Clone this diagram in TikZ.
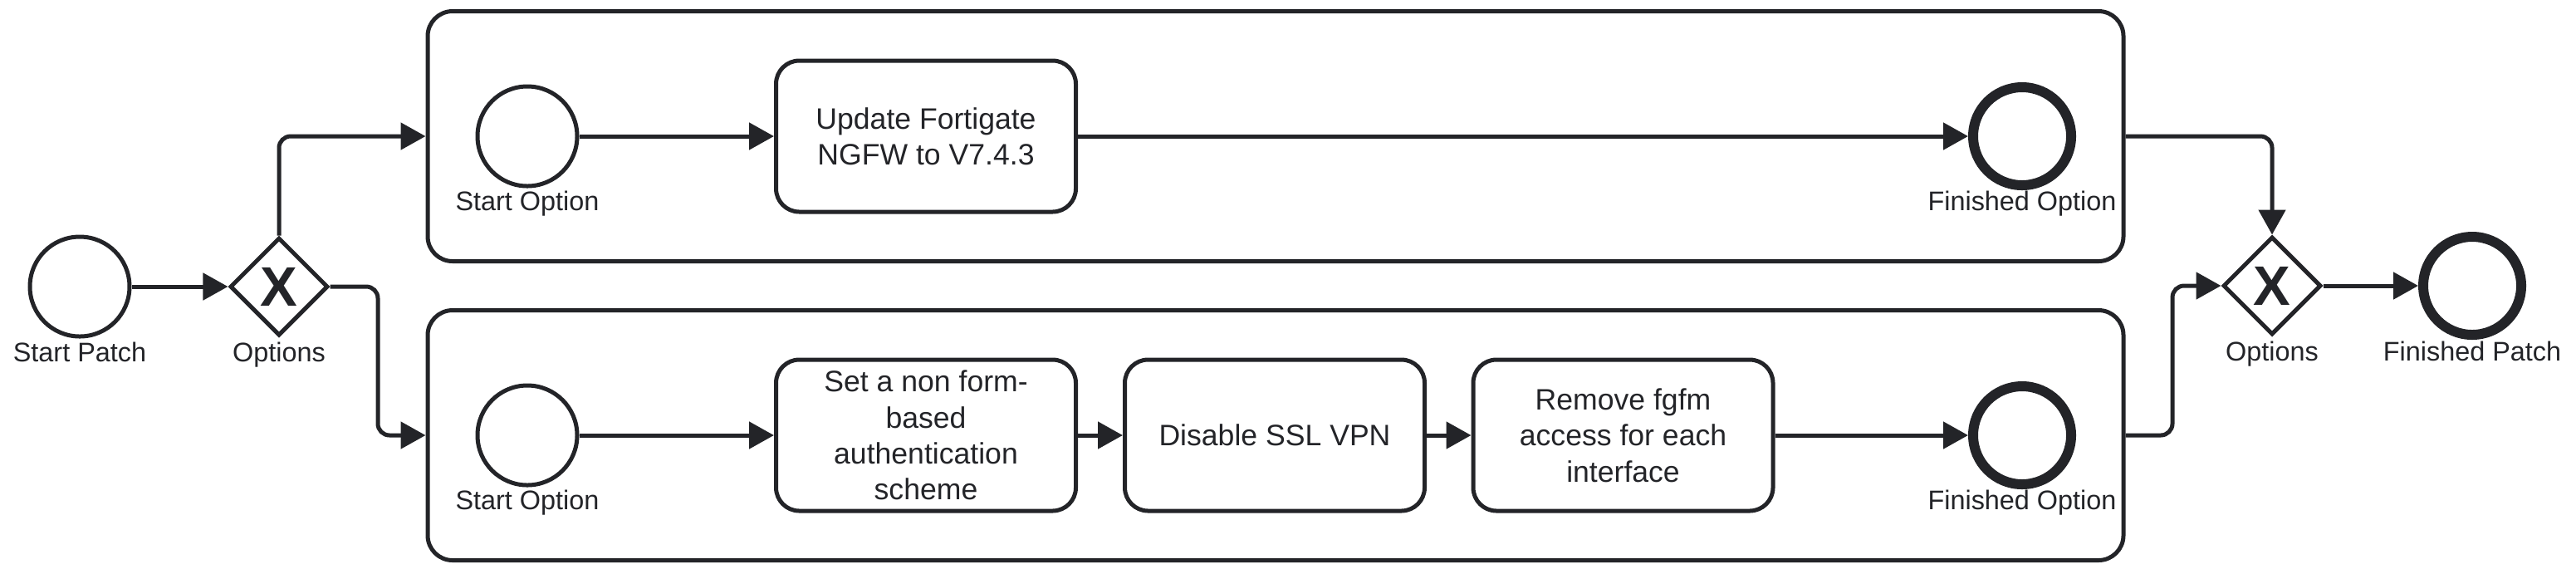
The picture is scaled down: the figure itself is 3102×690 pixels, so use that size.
\documentclass[tikz,border=0pt]{standalone}
\usepackage{fontspec}
\setmainfont{Liberation Sans}
\usetikzlibrary{arrows.meta,shapes.geometric,calc}
\definecolor{ink}{RGB}{35,36,40}
\begin{document}
\begin{tikzpicture}[x=0.25pt,y=-0.25pt,
  every node/.style={text=ink},
  txt/.style={font=\fontsize{8.1pt}{10.83pt}\selectfont},
  tasktxt/.style={font=\fontsize{8.9pt}{10.83pt}\selectfont},
  startev/.style={circle,draw=ink,line width=1.25pt,fill=white,minimum size=30pt,inner sep=0pt},
  endev/.style={circle,draw=ink,line width=3pt,fill=white,minimum size=29.5pt,inner sep=0pt},
  gate/.style={diamond,aspect=1,draw=ink,line width=1.25pt,fill=white,minimum width=29.5pt,minimum height=29.5pt,inner sep=0pt},
  xmark/.style={font=\fontsize{16.75pt}{16.75pt}\selectfont\bfseries},
  taskbox/.style={rectangle,rounded corners=7pt,draw=ink,line width=1.25pt,fill=white,minimum width=90.25pt,minimum height=45.5pt,inner sep=0pt,align=center,tasktxt},
  poolbox/.style={rectangle,rounded corners=7.5pt,draw=ink,line width=1.25pt,minimum width=510.5pt,minimum height=75.25pt,inner sep=0pt},
  evlabel/.style={txt,anchor=base,inner sep=0pt},
  flow/.style={draw=ink,line width=1.25pt,-{Triangle[length=7.5pt,width=8pt]}},
]
\useasboundingbox (0,0) rectangle (3102,690);

% pools
\node[poolbox] (pool1) at (1536,164) {};
\node[poolbox] (pool2) at (1536,524) {};

% outer events
\node[startev] (sp) at (96,345) {};
\node[evlabel] (spl) at (96,435) {Start Patch};
\node[gate] (gw1) at (336,345) {};
\node[xmark] (gw1x) at (336,345) {X};
\node[evlabel] (gw1l) at (336,435) {Options};

\node[gate] (gw2) at (2736,344) {};
\node[xmark] (gw2x) at (2736,344) {X};
\node[evlabel] (gw2l) at (2736,434) {Options};
\node[endev] (fp) at (2977,344) {};
\node[evlabel] (fpl) at (2977,434) {Finished Patch};

% pool 1
\node[startev] (so1) at (635,164) {};
\node[evlabel] (so1l) at (635,253) {Start Option};
\node[taskbox] (t1) at (1115,164) {Update Fortigate\\NGFW to V7.4.3};
\node[endev] (eo1) at (2435,164) {};
\node[evlabel] (eo1l) at (2435,253) {Finished Option};

% pool 2
\node[startev] (so2) at (635,524) {};
\node[evlabel] (so2l) at (635,613) {Start Option};
\node[taskbox] (t2) at (1115,524) {Set a non form-\\based\\authentication\\scheme};
\node[taskbox] (t3) at (1535,524) {Disable SSL VPN};
\node[taskbox] (t4) at (1954.5,524) {Remove fgfm\\access for each\\interface};
\node[endev] (eo2) at (2435,524) {};
\node[evlabel] (eo2l) at (2435,613) {Finished Option};

% connectors
\coordinate (j1) at (455,345);
\coordinate (j2) at (2616,524);
\draw[flow] (sp) -- (gw1);
\draw[flow,rounded corners=3.5pt] (gw1.north) |- (pool1.west);
\draw[flow,rounded corners=3.5pt] (gw1.east) -- (j1) |- (pool2.west);
\draw[flow] (so1) -- (t1);
\draw[flow] (t1) -- (eo1);
\draw[flow] (so2) -- (t2);
\draw[flow] (t2) -- (t3);
\draw[flow] (t3) -- (t4);
\draw[flow] (t4) -- (eo2);
\draw[flow,rounded corners=3.5pt] (pool1.east) -| (gw2.north);
\draw[flow,rounded corners=3.5pt] (pool2.east) -- (j2) |- (gw2.west);
\draw[flow] (gw2) -- (fp);
\end{tikzpicture}
\end{document}
